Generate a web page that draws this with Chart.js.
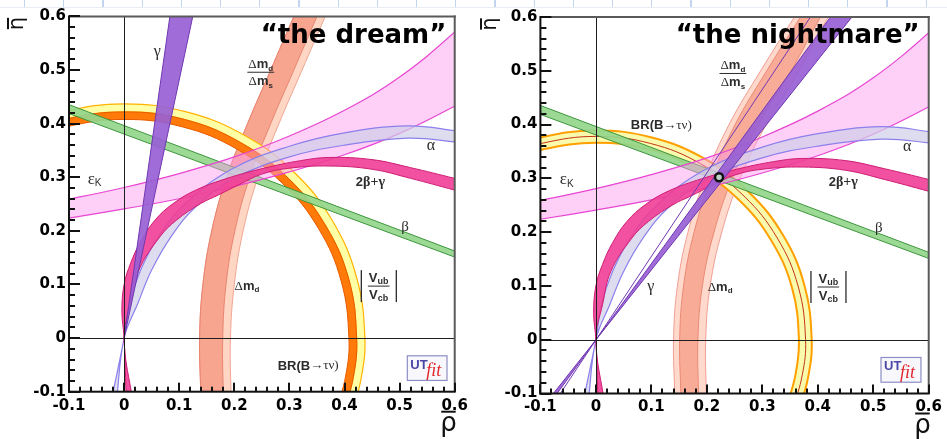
<!DOCTYPE html>
<html>
<head>
<meta charset="utf-8">
<title>UTfit: the dream / the nightmare</title>
<script src="https://cdn.jsdelivr.net/npm/chart.js@4.4.1/dist/chart.umd.min.js"></script>
<style>
  html, body { margin: 0; padding: 0; background: #fff; }
  body { width: 947px; height: 439px; position: relative; overflow: hidden; }
  #ruler {
    position: absolute; left: 0; top: 0; width: 947px; height: 7px;
    border-bottom: 1px solid #e8ecf3;
    background: repeating-linear-gradient(90deg, rgba(0,0,0,0) 0px, rgba(0,0,0,0) 24px,
      #c3d4ee 24px, #c3d4ee 25.2px, rgba(0,0,0,0) 25.2px, rgba(0,0,0,0) 39.2px);
  }
  canvas { position: absolute; top: 0; }
  #dream { left: 0; }
  #nightmare { left: 473px; }
</style>
</head>
<body>
<div id="ruler"></div>
<canvas id="dream" width="473" height="439"></canvas>
<canvas id="nightmare" width="474" height="439"></canvas>
<script>
// axis ticks (rho-bar and eta-bar share the same range)
const TICKS = [-0.1, 0, 0.1, 0.2, 0.3, 0.4, 0.5, 0.6];
const TICK_LABELS = ['-0.1', '0', '0.1', '0.2', '0.3', '0.4', '0.5', '0.6'];

// ---- constraints common to both plots: [rho, eta] edge points ----
const BETA_UP = [[-0.15, 0.455], [0.65, 0.143]];
const BETA_LO = [[-0.15, 0.438], [0.65, 0.132]];
const EPSK_UP = [[-0.15, 0.249], [-0.1, 0.259], [0, 0.281], [0.1, 0.307], [0.2, 0.338], [0.3, 0.377], [0.4, 0.425], [0.5, 0.487], [0.6, 0.571], [0.65, 0.625]];
const EPSK_LO = [[-0.15, 0.217], [-0.1, 0.224], [0, 0.241], [0.1, 0.26], [0.2, 0.283], [0.3, 0.31], [0.4, 0.342], [0.5, 0.382], [0.6, 0.433], [0.65, 0.464]];
const ALPHA_UP = [[-0.024, -0.12], [0, 0], [0.01, 0.065], [0.03, 0.127], [0.062, 0.189], [0.11, 0.25], [0.195, 0.315], [0.3, 0.358], [0.4, 0.383], [0.514, 0.396], [0.6, 0.387], [0.65, 0.378]];
const ALPHA_LO = [[-0.014, -0.12], [0, 0], [0.025, 0.065], [0.05, 0.127], [0.085, 0.189], [0.13, 0.245], [0.2, 0.298], [0.3, 0.338], [0.4, 0.36], [0.514, 0.373], [0.6, 0.366], [0.65, 0.358]];
const TBG_UP = [[0.004, -0.12], [0, 0], [-0.004, 0.05], [0, 0.1], [0.012, 0.14], [0.03, 0.18], [0.056, 0.22], [0.089, 0.251], [0.13, 0.276], [0.19, 0.299], [0.254, 0.317], [0.32, 0.331], [0.372, 0.337], [0.45, 0.333], [0.52, 0.318], [0.6, 0.298], [0.65, 0.285]];
const TBG_LO = [[0.016, -0.12], [0, 0], [0.012, 0.065], [0.027, 0.127], [0.065, 0.189], [0.095, 0.22], [0.139, 0.251], [0.171, 0.267], [0.21, 0.287], [0.25, 0.306], [0.3, 0.317], [0.372, 0.321], [0.45, 0.315], [0.52, 0.298], [0.6, 0.276], [0.65, 0.262]];

// ---- "the dream" ----
const GAMMA_D_L = [[0, 0], [0.09, 0.65]];
const GAMMA_D_R = [[0, 0], [0.135, 0.65]];
const VUB_D_OUT = [[0.411, -0.149], [0.43, -0.076], [0.437, 0], [0.422, 0.113], [0.378, 0.219], [0.309, 0.309], [0.219, 0.378], [0.113, 0.422], [0, 0.437], [-0.113, 0.422], [-0.185, 0.396]];
const VUB_D_IN = [[0.397, -0.144], [0.416, -0.073], [0.422, 0], [0.408, 0.109], [0.365, 0.211], [0.298, 0.298], [0.211, 0.365], [0.109, 0.408], [0, 0.422], [-0.109, 0.408], [-0.179, 0.382]];
const BR_D_IN = [[0.383, -0.14], [0.402, -0.071], [0.408, 0], [0.394, 0.106], [0.353, 0.204], [0.288, 0.288], [0.204, 0.353], [0.106, 0.394], [0, 0.408], [-0.106, 0.394], [-0.172, 0.37]];
const DMD_D_L = [[0.14, -0.15], [0.139, -0.1], [0.137, 0], [0.143, 0.1], [0.159, 0.2], [0.186, 0.3], [0.224, 0.4], [0.266, 0.5], [0.308, 0.6], [0.33, 0.65]];
const DMD_D_M = [[0.182, -0.15], [0.18, -0.1], [0.179, 0], [0.185, 0.1], [0.201, 0.2], [0.228, 0.3], [0.266, 0.4], [0.308, 0.5], [0.35, 0.6], [0.372, 0.65]];
const DMS_D_R = [[0.196, -0.15], [0.194, -0.1], [0.193, 0], [0.2, 0.1], [0.216, 0.2], [0.243, 0.3], [0.281, 0.4], [0.323, 0.5], [0.365, 0.6], [0.387, 0.65]];

// ---- "the nightmare" ----
const GAMMA_N_A = [[-0.092, -0.12], [0.5, 0.65]];
const GAMMA_N_B = [[-0.084, -0.12], [0.458, 0.65]];
const GAMMA_N_EDGE = [[-0.077, -0.12], [0.419, 0.65]];
const VUB_N_OUT = [[0.366, -0.133], [0.383, -0.068], [0.389, 0], [0.376, 0.101], [0.337, 0.195], [0.275, 0.275], [0.195, 0.337], [0.101, 0.376], [0, 0.389], [-0.101, 0.376], [-0.164, 0.353]];
const VUB_N_IN = [[0.344, -0.125], [0.36, -0.064], [0.366, 0], [0.354, 0.095], [0.317, 0.183], [0.259, 0.259], [0.183, 0.317], [0.095, 0.354], [0, 0.366], [-0.095, 0.354], [-0.155, 0.332]];
const BR_N_LINE = [[0.355, -0.129], [0.372, -0.066], [0.378, 0], [0.365, 0.098], [0.327, 0.189], [0.267, 0.267], [0.189, 0.327], [0.098, 0.365], [0, 0.378], [-0.098, 0.365], [-0.16, 0.343]];
const DMD_N_L = [[0.142, -0.15], [0.142, -0.1], [0.14, 0], [0.147, 0.1], [0.166, 0.2], [0.197, 0.3], [0.24, 0.4], [0.297, 0.5], [0.358, 0.6], [0.39, 0.65]];
const DMD_N_DL = [[0.153, -0.15], [0.153, -0.1], [0.151, 0], [0.158, 0.1], [0.177, 0.2], [0.208, 0.3], [0.251, 0.4], [0.308, 0.5], [0.369, 0.6], [0.401, 0.65]];
const DMD_N_DR = [[0.186, -0.15], [0.185, -0.1], [0.184, 0], [0.192, 0.1], [0.213, 0.2], [0.246, 0.3], [0.293, 0.4], [0.352, 0.5], [0.405, 0.6], [0.435, 0.65]];
const DMD_N_R = [[0.2, -0.15], [0.199, -0.1], [0.198, 0], [0.206, 0.1], [0.227, 0.2], [0.26, 0.3], [0.307, 0.4], [0.366, 0.5], [0.419, 0.6], [0.449, 0.65]];
const FIT_POINT = [[0.222, 0.302]];

const SANS = "'Liberation Sans', Arial, sans-serif";
const SERIF = "'Liberation Serif', 'Times New Roman', serif";
const DJV = "'DejaVu Sans', sans-serif";

const pts = arr => arr.map(p => ({ x: p[0], y: p[1] }));

function band(upper, lower, fill, line, width, tension) {
    return {
        data: pts(upper.concat(lower.slice().reverse())),
        showLine: true, fill: 'shape',
        backgroundColor: fill, borderColor: line, borderWidth: width,
        pointRadius: 0, pointHoverRadius: 0, tension: tension, clip: 0
    };
}

function edge(arr, color, width, tension) {
    return {
        data: pts(arr), showLine: true, fill: false,
        borderColor: color, borderWidth: width,
        pointRadius: 0, pointHoverRadius: 0, tension: tension, clip: 0
    };
}

// rich text: list of [text, font, dy]
function rich(ctx, parts, x, y, align) {
    let w = 0;
    for (const p of parts) { ctx.font = p[1]; w += ctx.measureText(p[0]).width; }
    let cx = align === 'left' ? x : x - w / 2;
    for (const p of parts) {
        ctx.font = p[1];
        ctx.fillText(p[0], cx, y + (p[2] || 0));
        cx += ctx.measureText(p[0]).width;
    }
    return w;
}

function partsWidth(ctx, parts) {
    let w = 0;
    for (const p of parts) { ctx.font = p[1]; w += ctx.measureText(p[0]).width; }
    return w;
}

const DM_NUM = [['\u0394', '13px ' + SERIF], ['m', 'bold 13px ' + SANS], ['d', 'bold 8px ' + SANS, 3]];
const DM_DEN = [['\u0394', '13px ' + SERIF], ['m', 'bold 13px ' + SANS], ['s', 'bold 8px ' + SANS, 3]];
const VUB_NUM = [['V', 'bold 13px ' + SANS], ['ub', 'bold 9px ' + SANS, 2]];
const VCB_DEN = [['V', 'bold 13px ' + SANS], ['cb', 'bold 9px ' + SANS, 2]];
const LBL_GAMMA = [['\u03b3', '16px ' + SERIF]];
const LBL_ALPHA = [['\u03b1', '16px ' + SERIF]];
const LBL_BETA = [['\u03b2', '15px ' + SERIF]];
const LBL_EPSK = [['\u03b5', '17px ' + SERIF], ['K', '10px ' + SANS, 4]];
const LBL_2BG = [['2', 'bold 13px ' + SANS], ['\u03b2+\u03b3', 'bold 14px ' + SERIF]];
const LBL_DMD = [['\u0394', '13px ' + SERIF], ['m', 'bold 13px ' + SANS], ['d', 'bold 8px ' + SANS, 3]];
const LBL_BR = [['BR(B', 'bold 13px ' + SANS], ['\u2192\u03c4\u03bd)', '13px ' + SERIF]];

function drawLabel(ctx, lb, px, py) {
    if (lb.kind === 'frac' || lb.kind === 'abs') {
        const num = lb.num, den = lb.den;
        const w = Math.max(partsWidth(ctx, num), partsWidth(ctx, den)) + 2;
        ctx.textBaseline = 'alphabetic';
        ctx.fillRect(px - w / 2, py - 0.5, w, 1);
        rich(ctx, num, px, py - (lb.kind === 'abs' ? 4.5 : 4), 'center');
        rich(ctx, den, px, py + 12.5, 'center');
        if (lb.kind === 'abs') {
            ctx.fillRect(px - 18, py - 16, 1.3, 32);
            ctx.fillRect(px + 17, py - 16, 1.3, 32);
        }
        ctx.textBaseline = 'middle';
        return;
    }
    rich(ctx, lb.parts, px, py, lb.align || 'center');
}

function makeDecor(deco) {
    return {
        id: 'utDecor',
        afterDatasetsDraw(chart) {
            const { ctx, chartArea: a } = chart;
            const sx = chart.scales.x, sy = chart.scales.y;
            const X = v => sx.getPixelForValue(v), Y = v => sy.getPixelForValue(v);
            ctx.save();

            // rho = 0 and eta = 0 lines
            ctx.strokeStyle = '#1e1e1e';
            ctx.lineWidth = 1;
            const x0 = Math.round(X(0)) + 0.5, y0 = Math.round(Y(0)) + 0.5;
            ctx.beginPath();
            ctx.moveTo(x0, a.top); ctx.lineTo(x0, a.bottom);
            ctx.moveTo(a.left, y0); ctx.lineTo(a.right, y0);
            ctx.stroke();

            // constraint labels
            ctx.fillStyle = '#2c2c2c';
            ctx.textBaseline = 'middle';
            ctx.textAlign = 'left';
            for (const lb of deco.labels) drawLabel(ctx, lb, X(lb.x), Y(lb.y));

            // UTfit logo
            const l = X(0.514), r = X(0.586), t = Y(-0.033), b = Y(-0.079);
            ctx.fillStyle = '#f7f7fc';
            ctx.fillRect(l, t, r - l, b - t);
            ctx.strokeStyle = '#8e8ec4';
            ctx.lineWidth = 1.2;
            ctx.strokeRect(l, t, r - l, b - t);
            ctx.textBaseline = 'alphabetic';
            ctx.fillStyle = '#4a47a6';
            ctx.font = 'bold 13px ' + SANS;
            ctx.fillText('UT', l + 3, t + 13);
            ctx.fillStyle = '#e2262d';
            ctx.font = 'italic 18px ' + SERIF;
            ctx.fillText('fit', l + 19, b - 4);

            // title
            ctx.fillStyle = '#000';
            ctx.font = 'bold 26px ' + DJV;
            ctx.fillText(deco.title, X(deco.titleAt[0]), Y(deco.titleAt[1]));

            // frame
            ctx.fillStyle = '#5a5a5a';
            ctx.fillRect(a.left, a.top - 1, a.right - a.left + 1, 2);
            ctx.fillRect(a.right - 1, a.top - 1, 2, a.bottom - a.top + 1);
            ctx.fillStyle = '#111';
            ctx.fillRect(a.left - 1, a.top - 1, 2, a.bottom - a.top + 2);
            ctx.fillRect(a.left - 1, a.bottom - 1, a.right - a.left + 2, 2);

            // inward ticks, minor every 0.02
            ctx.fillStyle = '#111';
            for (let k = 0; k <= 35; k++) {
                const v = -0.1 + k * 0.02;
                const major = k % 5 === 0;
                const py = Math.round(Y(v));
                ctx.fillRect(a.left, py - 1, major ? 11 : 6, 2);
                const px = Math.round(X(v));
                ctx.fillRect(px - 1, a.bottom - (major ? 9 : 5), 2, major ? 9 : 5);
            }

            // axis titles (rho-bar, eta-bar)
            ctx.fillStyle = '#111';
            ctx.textAlign = 'right';
            ctx.font = '26px ' + DJV;
            const wr = ctx.measureText('\u03c1').width;
            const bx = a.right + 2, by = a.bottom + 39;
            ctx.fillText('\u03c1', bx, by);
            ctx.fillRect(bx - wr + 1, by - 20, wr - 2, 2);

            ctx.translate(23, a.top + 7);
            ctx.rotate(-Math.PI / 2);
            ctx.textAlign = 'center';
            ctx.font = '21px ' + DJV;
            const we = ctx.measureText('\u03b7').width;
            ctx.fillText('\u03b7', 0, 0);
            ctx.fillRect(-we / 2 + 1, -16, we - 2, 2);
            ctx.restore();
        }
    };
}

function makeChart(id, datasets, deco, box) {
    const ordered = datasets.slice().reverse(); // index 0 is drawn on top
    const tickFont = { family: "'DejaVu Sans', sans-serif", weight: 'bold', size: 15 };
    return new Chart(document.getElementById(id), {
        type: 'scatter',
        data: { datasets: ordered },
        options: {
            responsive: false,
            animation: false,
            devicePixelRatio: 1,
            events: [],
            layout: { padding: { top: box.top, right: box.right, left: 0, bottom: 0 } },
            scales: {
                x: {
                    type: 'linear', min: -0.1, max: 0.6,
                    grid: { display: false, drawTicks: false },
                    border: { display: false },
                    afterBuildTicks: s => { s.ticks = TICKS.map(v => ({ value: v })); },
                    afterFit: s => { s.height = box.bottom; },
                    ticks: {
                        callback: (v, i) => TICK_LABELS[i],
                        font: tickFont, color: '#000', padding: 5,
                        maxRotation: 0, autoSkip: false
                    }
                },
                y: {
                    type: 'linear', min: -0.1, max: 0.6,
                    grid: { display: false, drawTicks: false },
                    border: { display: false },
                    afterBuildTicks: s => { s.ticks = TICKS.map(v => ({ value: v })); },
                    afterFit: s => { s.width = box.left; },
                    ticks: {
                        callback: (v, i) => TICK_LABELS[i],
                        font: tickFont, color: '#000', padding: 3,
                        autoSkip: false
                    }
                }
            },
            plugins: { legend: { display: false }, tooltip: { enabled: false } }
        },
        plugins: [makeDecor(deco)]
    });
}

// datasets listed bottom -> top
const dreamSets = [
    band(DMD_D_L, DMS_D_R, 'rgba(255,208,190,0.9)', 'rgba(238,158,138,0.9)', 1, 0.4),
    band(DMD_D_L, DMD_D_M, 'rgba(246,158,136,0.88)', 'rgba(230,128,108,0.9)', 1, 0.4),
    band(VUB_D_OUT, VUB_D_IN, 'rgb(255,255,165)', 'rgb(255,178,0)', 1.2, 0.4),
    band(VUB_D_IN, BR_D_IN, 'rgb(255,122,8)', 'rgb(230,90,0)', 1, 0.4),
    band(BETA_UP, BETA_LO, 'rgba(146,214,140,0.92)', 'rgb(62,150,62)', 1, 0),
    band(EPSK_UP, EPSK_LO, 'rgba(252,150,238,0.46)', 'rgb(232,70,210)', 1.2, 0.4),
    band(ALPHA_UP, ALPHA_LO, 'rgba(206,206,232,0.7)', 'rgb(140,128,236)', 1.2, 0.4),
    band(TBG_UP, TBG_LO, 'rgba(240,62,150,0.9)', 'rgb(206,30,116)', 1, 0.4),
    band(GAMMA_D_L, GAMMA_D_R, 'rgba(152,96,212,0.92)', 'rgb(112,56,178)', 1, 0)
];

const nightmareSets = [
    band(DMD_N_L, DMD_N_R, 'rgba(255,214,198,0.9)', 'rgba(238,150,140,0.9)', 1, 0.4),
    band(DMD_N_DL, DMD_N_DR, 'rgba(247,164,144,0.88)', 'rgba(232,132,112,0.9)', 1, 0.4),
    band(VUB_N_OUT, VUB_N_IN, 'rgb(250,250,172)', 'rgb(255,160,0)', 2, 0.4),
    edge(BR_N_LINE, 'rgb(196,52,24)', 1, 0.4),
    band(BETA_UP, BETA_LO, 'rgba(146,214,140,0.92)', 'rgb(62,150,62)', 1, 0),
    band(EPSK_UP, EPSK_LO, 'rgba(252,150,238,0.46)', 'rgb(232,70,210)', 1.2, 0.4),
    band(ALPHA_UP, ALPHA_LO, 'rgba(206,206,232,0.7)', 'rgb(140,128,236)', 1.2, 0.4),
    band(TBG_UP, TBG_LO, 'rgba(240,62,150,0.9)', 'rgb(206,30,116)', 1, 0.4),
    band(GAMMA_N_A, GAMMA_N_B, 'rgba(152,96,212,0.92)', 'rgb(112,56,178)', 1, 0),
    edge(GAMMA_N_EDGE, 'rgb(112,56,178)', 1, 0),
    {
        data: pts(FIT_POINT), showLine: false,
        pointRadius: 4, pointBorderWidth: 2.5,
        pointBackgroundColor: 'rgba(200,240,200,0.8)', pointBorderColor: '#111'
    }
];

makeChart('dream', dreamSets, {
    title: '\u201cthe dream\u201d', titleAt: [0.248, 0.55],
    labels: [
        { parts: LBL_GAMMA, x: 0.06, y: 0.535 },
        { parts: LBL_EPSK, x: -0.066, y: 0.296, align: 'left' },
        { parts: LBL_ALPHA, x: 0.557, y: 0.359 },
        { parts: LBL_2BG, x: 0.447, y: 0.291 },
        { parts: LBL_BETA, x: 0.51, y: 0.207 },
        { parts: LBL_DMD, x: 0.223, y: 0.096 },
        { kind: 'frac', num: DM_NUM, den: DM_DEN, x: 0.248, y: 0.496 },
        { kind: 'abs', num: VUB_NUM, den: VCB_DEN, x: 0.462, y: 0.097 },
        { parts: LBL_BR, x: 0.334, y: -0.052 }
    ]
}, { left: 69, right: 9, top: 16.5, bottom: 47.3 });

makeChart('nightmare', nightmareSets, {
    title: '\u201cthe nightmare\u201d', titleAt: [0.144, 0.551],
    labels: [
        { parts: LBL_GAMMA, x: 0.099, y: 0.099 },
        { parts: LBL_EPSK, x: -0.065, y: 0.297, align: 'left' },
        { parts: LBL_ALPHA, x: 0.561, y: 0.359 },
        { parts: LBL_2BG, x: 0.446, y: 0.293 },
        { parts: LBL_BETA, x: 0.51, y: 0.208 },
        { parts: LBL_DMD, x: 0.224, y: 0.097 },
        { kind: 'frac', num: DM_NUM, den: DM_DEN, x: 0.247, y: 0.495 },
        { kind: 'abs', num: VUB_NUM, den: VCB_DEN, x: 0.419, y: 0.098 },
        { parts: LBL_BR, x: 0.118, y: 0.398 }
    ]
}, { left: 67.4, right: 13, top: 17, bottom: 45.5 });
</script>
</body>
</html>
